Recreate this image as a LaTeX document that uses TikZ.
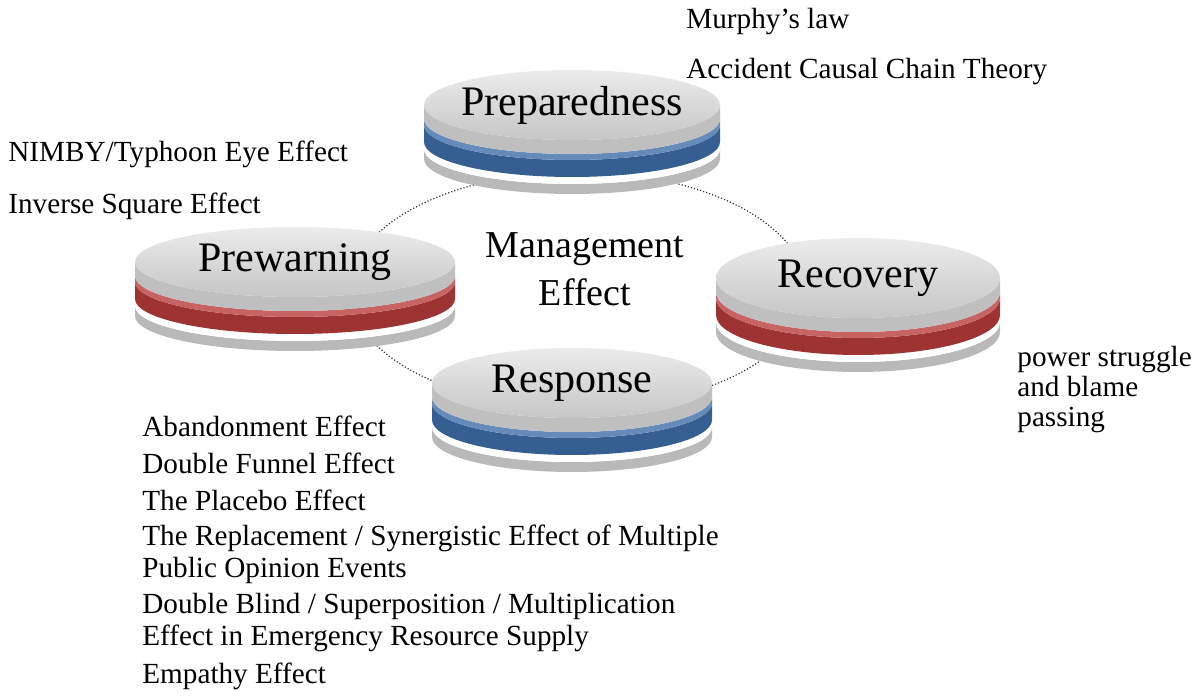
\documentclass[tikz,border=0pt]{standalone}
\usepackage{fontspec}
\setmainfont{Liberation Serif}
\definecolor{DiskBlue}{RGB}{62, 110, 170}
\definecolor{DiskRed}{RGB}{185, 60, 60}
\newcommand{\mgslice}[6]{% cx, rx, ry, ytop, ybottom, colour
  \fill[#6] (#1-#2,#4) -- (#1-#2,#5) arc[start angle=180,end angle=360,x radius=#2,y radius=#3]
    -- (#1+#2,#4) arc[start angle=0,end angle=-180,x radius=#2,y radius=#3] -- cycle;}
\newcommand{\mgdisk}[6]{% name, cx, cy, rx, ry, colour ; label drawn separately
  \mgslice{#2}{#4}{#5}{#3-44}{#3-54}{gray!55}
  \mgslice{#2}{#4}{#5}{#3-37}{#3-44}{white}
  \mgslice{#2}{#4}{#5}{#3-20}{#3-37}{#6!85!black}
  \mgslice{#2}{#4}{#5}{#3-14}{#3-20}{#6!80!white}
  \mgslice{#2}{#4}{#5}{#3}{#3-14}{gray!50}
  \shade[top color=gray!15,bottom color=gray!45] (#2,#3) ellipse [x radius=#4,y radius=#5];
  \coordinate (#1) at (#2,#3);}
\tikzset{
  txt/.style={anchor=west,font=\fontsize{14.6}{17}\selectfont,inner sep=0pt},
  disklabel/.style={font=\fontsize{21}{24}\selectfont},
  cycleline/.style={densely dotted,semithick,black!80}
}
\begin{document}
\begin{tikzpicture}[x=0.5pt,y=0.5pt]
\useasboundingbox (0,0) rectangle (1200,696);
% dotted management cycle
\draw[cycleline] (578,406) ellipse [x radius=228,y radius=118];
\mgdisk{prep}{572}{591}{148}{35}{DiskBlue}
\mgdisk{prew}{295}{434}{160}{35}{DiskRed}
\mgdisk{resp}{572}{313}{140}{35}{DiskBlue}
\mgdisk{reco}{858}{418}{142}{40}{DiskRed}
\node[disklabel] at (prep) {Preparedness};
\node[disklabel] at (prew) {Prewarning};
\node[disklabel] at (resp) {Response};
\node[disklabel] at (reco) {Recovery};
\node[font=\fontsize{19}{24}\selectfont,align=center] (mgmt) at (585,427) {Management\\Effect};
% effects
\node[txt] (murphy) at (686,674) {Murphy’s law};
\node[txt] (chain) at (686,624) {Accident Causal Chain Theory};
\node[txt] (nimby) at (8,542) {NIMBY/Typhoon Eye Effect};
\node[txt] (invsq) at (8,490) {Inverse Square Effect};
\node[txt,align=left,font=\fontsize{14.6}{15}\selectfont] (power) at (1017,306) {power struggle\\and blame\\passing};
\node[txt] (e1) at (142,270) {Abandonment Effect};
\node[txt] (e2) at (142,233) {Double Funnel Effect};
\node[txt] (e3) at (142,196) {The Placebo Effect};
\node[txt,align=left,font=\fontsize{14.6}{16}\selectfont] (e4) at (142,142) {The Replacement / Synergistic Effect of Multiple\\Public Opinion Events};
\node[txt,align=left,font=\fontsize{14.6}{16}\selectfont] (e5) at (142,73) {Double Blind / Superposition / Multiplication\\Effect in Emergency Resource Supply};
\node[txt] (e6) at (142,20) {Empathy Effect};
\end{tikzpicture}
\end{document}
